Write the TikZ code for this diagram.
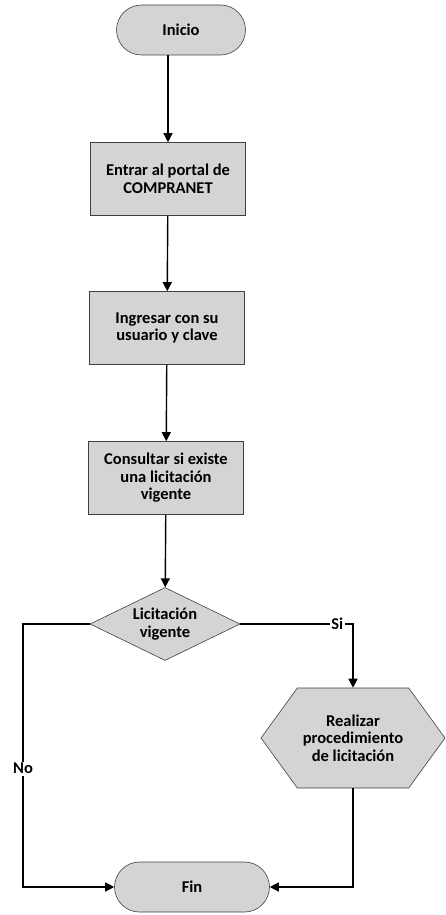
\documentclass[tikz,border=0pt]{standalone}
\usepackage{fontspec}
\setmainfont{Carlito}
\usetikzlibrary{shapes.geometric,shapes.symbols,arrows.meta}
\tikzset{
  base/.style={draw=black!75,fill=black!17,line width=0.6pt,inner sep=0pt,align=center,
    font=\fontsize{16.5}{17.5}\selectfont\bfseries},
  term/.style={base,rectangle,rounded corners=25pt,minimum height=50pt},
  proc/.style={base,rectangle,minimum width=155pt,minimum height=73pt},
  dec/.style={base,diamond,aspect=2.2,minimum width=150pt,minimum height=73pt},
  prep/.style={base,signal,signal to=west and east,signal pointer angle=108,
    minimum width=184pt,minimum height=100pt},
  flow/.style={line width=1.4pt,-{Triangle[length=9pt,width=9pt]}},
  lbl/.style={fill=white,inner sep=1.5pt,font=\fontsize{16.5}{17.5}\selectfont\bfseries}
}
\begin{document}
\begin{tikzpicture}[x=1pt,y=-1pt]
\useasboundingbox (0,0) rectangle (445,915);
\node[term,minimum width=129pt] (inicio) at (181,30) {Inicio};
\node[proc] (entrar) at (168,179) {Entrar al portal de\\COMPRANET};
\node[proc] (ingresar) at (167,328) {Ingresar con su\\usuario y clave};
\node[proc] (consultar) at (166,478) {Consultar si existe\\una licitación\\vigente};
\node[dec] (vigente) at (165,624) {Licitación\\vigente};
\node[prep] (realizar) at (353,738) {Realizar\\procedimiento\\de licitación};
\node[term,minimum width=155pt] (fin) at (192,887) {Fin};
\coordinate (noturn) at (23,624);
\coordinate (siturn) at (realizar.north |- vigente.east);
\draw[flow] (inicio.south -| entrar.north) -- (entrar);
\draw[flow] (entrar) -- (ingresar);
\draw[flow] (ingresar) -- (consultar);
\draw[flow] (consultar) -- (vigente);
\draw[flow] (vigente.west) -- (noturn) |- node[lbl,pos=0.275] {No} (fin.west);
\draw[flow] (vigente.east) -- node[lbl,pos=0.86] {Si} (siturn) -- (realizar.north);
\draw[flow] (realizar.south) |- (fin.east);
\end{tikzpicture}
\end{document}
